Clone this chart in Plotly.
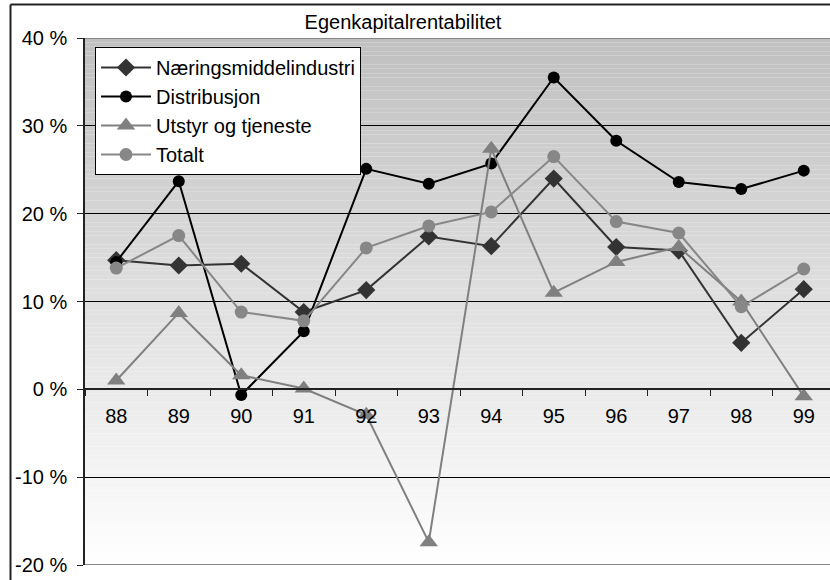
import plotly.graph_objects as go

years = ["88", "89", "90", "91", "92", "93", "94", "95", "96", "97", "98", "99"]
naering = [14.7, 14.1, 14.3, 8.8, 11.3, 17.4, 16.3, 24.0, 16.2, 15.8, 5.3, 11.4]
distribusjon = [14.5, 23.7, -0.65, 6.6, 25.1, 23.4, 25.7, 35.5, 28.3, 23.6, 22.8, 24.9]
utstyr = [1.0, 8.7, 1.6, 0.1, -2.9, -17.4, 27.4, 11.0, 14.5, 16.2, 10.0, -0.8]
totalt = [13.8, 17.5, 8.8, 7.8, 16.1, 18.6, 20.2, 26.5, 19.1, 17.8, 9.4, 13.7]

y_ticks = [-20, -10, 0, 10, 20, 30, 40]
y_tick_labels = ["-20 %", "-10 %", "0 %", "10 %", "20 %", "30 %", "40 %"]

FONT = "Liberation Sans, Arial, sans-serif"
FS = 20
W, H = 830, 580
ML, MT, MB, MR = 85, 38, 15, 0
PW, PH = W - ML - MR, H - MT - MB

fig = go.Figure()

series = [
    ("Næringsmiddelindustri", naering, "#333333", "diamond", 14),
    ("Distribusjon", distribusjon, "#000000", "circle", 12),
    ("Utstyr og tjeneste", utstyr, "#808080", "triangle-up", 16),
    ("Totalt", totalt, "#878787", "circle", 13),
]
for name, vals, col, sym, sz in series:
    fig.add_trace(go.Scatter(
        x=years, y=vals, name=name, mode="lines+markers",
        line=dict(color=col, width=2),
        marker=dict(symbol=sym, size=sz, color=col, line=dict(width=0)),
        hoverinfo="skip",
    ))

shapes = []
# vertical gradient background (style only)
n = 120
ymin, ymax = -20, 40
for i in range(n):
    y0 = ymin + (ymax - ymin) * i / n
    y1 = ymin + (ymax - ymin) * (i + 1) / n
    t = (i + 0.5) / n
    g = int(round(255 - (255 - 192) * t))
    c = f"rgb({g},{g},{g})"
    shapes.append(dict(type="rect", xref="paper", yref="y", x0=0, x1=1, y0=y0, y1=y1,
                       fillcolor=c, line=dict(width=0), layer="below"))
# top and bottom plot borders
for yy in (40, -20):
    shapes.append(dict(type="line", xref="paper", yref="y", x0=0, x1=1, y0=yy, y1=yy,
                       line=dict(color="#858585", width=2), layer="above"))
# outer chart frame (left and top)
fx = (10.5 - ML) / PW
fy = (H - MB - 4.5) / PH
shapes.append(dict(type="line", xref="paper", yref="paper", x0=fx, x1=1.2, y0=fy, y1=fy,
                   line=dict(color="#222222", width=2), layer="above"))
shapes.append(dict(type="line", xref="paper", yref="paper", x0=fx, x1=fx, y0=-0.2, y1=fy,
                   line=dict(color="#222222", width=2), layer="above"))

fig.update_layout(
    width=W, height=H,
    margin=dict(l=ML, r=MR, t=MT, b=MB),
    paper_bgcolor="white",
    plot_bgcolor="rgba(0,0,0,0)",
    font=dict(family=FONT, size=FS, color="black"),
    title=dict(text="Egenkapitalrentabilitet", xref="container", yref="container",
               x=403 / W, y=1 - 22 / H, xanchor="center", yanchor="middle",
               font=dict(family=FONT, size=FS, color="black")),
    shapes=shapes,
    showlegend=True,
    legend=dict(x=(95 - ML) / PW, y=(H - MB - 47) / PH, xanchor="left", yanchor="top",
                bgcolor="white", bordercolor="black", borderwidth=1,
                font=dict(family=FONT, size=FS, color="black"),
                itemwidth=50, tracegroupgap=0),
    xaxis=dict(type="category", range=[-0.5, (W - ML - MR) / 62.5 - 0.5],
               anchor="free", position=20 / 60,
               showline=True, linecolor="#222222", linewidth=1.5,
               ticks="outside", ticklen=6, tickcolor="#222222", tickson="boundaries",
               showgrid=False, zeroline=False, tickfont=dict(size=FS),
               ticklabelstandoff=9),
    yaxis=dict(range=[-20, 40], tickvals=y_ticks, ticktext=y_tick_labels,
               showline=True, linecolor="#222222", linewidth=1.5,
               ticks="outside", ticklen=6, tickcolor="#222222",
               showgrid=True, gridcolor="black", gridwidth=1, zeroline=False,
               tickfont=dict(size=FS), ticklabelstandoff=6),
)

fig.write_html("out.html", config={"displayModeBar": False},
               post_script="document.body.style.margin='0px';document.body.style.overflow='hidden';")
